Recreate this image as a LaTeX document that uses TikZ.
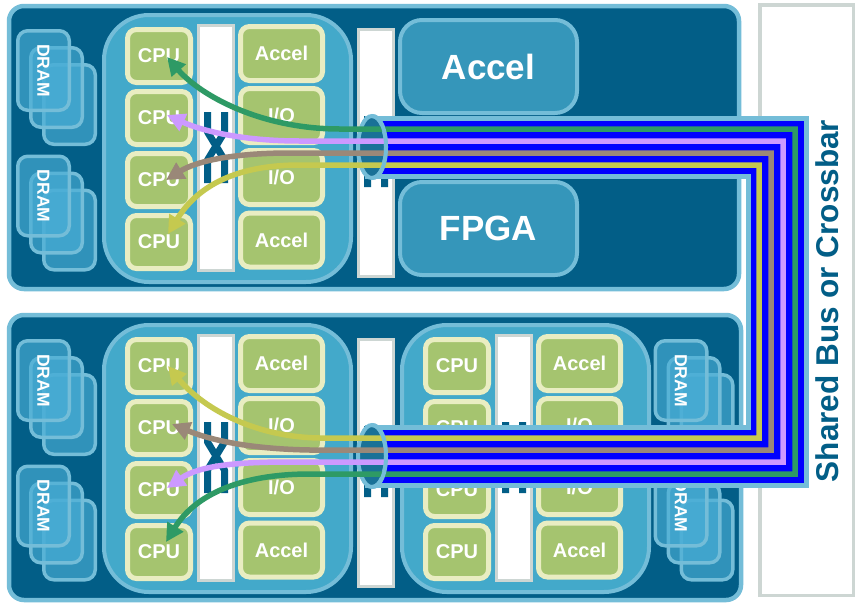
\documentclass[tikz,border=0pt]{standalone}
\usepackage{fontspec}
\setmainfont{Liberation Sans}
\usetikzlibrary{arrows.meta}
\definecolor{boardc}{HTML}{025E87}
\definecolor{rimc}{HTML}{74BDD8}
\definecolor{chipc}{HTML}{43A9CA}
\definecolor{boxg}{HTML}{A5C46F}
\definecolor{boxrim}{HTML}{E9EDC2}
\definecolor{barrim}{HTML}{CDD6D3}
\definecolor{bigc}{HTML}{3596BA}
\definecolor{dramc}{HTML}{4AAED6}
\definecolor{busblue}{HTML}{0000FF}
\definecolor{lgreen}{HTML}{2E9A65}
\definecolor{lpurple}{HTML}{CC99FF}
\definecolor{lbrown}{HTML}{9A8878}
\definecolor{lyellow}{HTML}{C5C94F}
\tikzset{
  board/.style={draw=rimc, fill=boardc, line width=4.5pt, rounded corners=15pt},
  chipbody/.style={draw=rimc, fill=chipc, line width=4pt, rounded corners=45pt,
    minimum width=247pt, minimum height=267pt},
  unit/.style={draw=boxrim, fill=boxg, line width=5pt, rounded corners=9pt,
    minimum width=63pt, minimum height=53pt, inner sep=0pt, text=white,
    font=\bfseries\fontsize{20}{20}\selectfont},
  ubox/.style={unit, minimum width=82pt, minimum height=54pt},
  xbarbox/.style={draw=barrim, fill=white, line width=3pt, minimum width=35pt},
  crossw/.style={draw=boardc, line width=7pt, line join=bevel},
  bigbox/.style={draw=rimc, fill=bigc, line width=4pt, rounded corners=22pt,
    minimum width=177pt, minimum height=93pt, text=white,
    font=\bfseries\fontsize{35}{35}\selectfont},
  dramrect/.style={draw=rimc, fill=dramc, fill opacity=0.65, line width=3.5pt,
    rounded corners=10pt, minimum width=51.5pt, minimum height=79.5pt},
  dramtext/.style={rotate=-90, text=white, inner sep=0pt,
    font=\bfseries\fontsize{17.5}{17.5}\selectfont},
  conn/.style={line width=5.5pt, line join=miter,
    arrows={Triangle[length=18pt,width=18pt]-Triangle[length=18pt,width=18pt]}},
}
\newcommand\mkcross[2]{%
  \draw[crossw] ({#1-8.5},#2) -- ({#1-8.5},{#2+20}) -- ({#1+8.5},{#2+48}) -- ({#1+8.5},{#2+71});
  \draw[crossw] ({#1+8.5},#2) -- ({#1+8.5},{#2+20}) -- ({#1-8.5},{#2+48}) -- ({#1-8.5},{#2+71});}
\newcommand\mkchip[3]{%
  \begin{scope}[shift={(#2,#3)}]
    \node[chipbody] (#1chip) at (227.5,148.5) {};
    \node[xbarbox, minimum height=245pt] (#1bar) at (216,148) {};
    \mkcross{216}{112}
    \node[unit] (#1cpu1) at (159,56) {CPU};
    \node[unit] (#1cpu2) at (159,118) {CPU};
    \node[unit] (#1cpu3) at (159,180) {CPU};
    \node[unit] (#1cpu4) at (159,242) {CPU};
    \node[ubox] (#1acc1) at (281.5,53.5) {Accel};
    \node[ubox] (#1io1) at (281.5,115.5) {I/O};
    \node[ubox] (#1io2) at (281.5,177.5) {I/O};
    \node[ubox] (#1acc2) at (281.5,240) {Accel};
  \end{scope}}
\newcommand\mkdram[3]{%
  \begin{scope}[shift={(#2,#3)}]
    \node[dramrect] (#1c) at (26,34) {};
    \node[dramrect] (#1b) at (13,17) {};
    \node[dramrect] (#1a) at (0,0) {};
    \node[dramtext] (#1t) at (0,0) {DRAM};
  \end{scope}}
\begin{document}
\begin{tikzpicture}[x=1pt,y=-1pt]
\useasboundingbox (0,0) rectangle (856,606);
\fill[white] (0,0) rectangle (856,606);
% label box
\node[draw=barrim, fill=white, line width=3.5pt, minimum width=93.5pt, minimum height=590.5pt] (lblbox) at (806.5,300) {};
% boards
\node[board, minimum width=730pt, minimum height=283pt] (boardT) at (374,147.5) {};
\node[board, minimum width=732pt, minimum height=285pt] (boardB) at (375,457.5) {};
% DRAM stacks
\mkdram{dTa}{43.5}{70.5}
\mkdram{dTb}{43.5}{196}
\mkdram{dBa}{43.5}{380.5}
\mkdram{dBb}{43.5}{506}
\mkdram{dRa}{681}{380.5}
\mkdram{dRb}{681}{506}
% chips
\mkchip{T}{0}{0}
\mkchip{B}{0}{310}
\mkchip{R}{298}{310}
% second crossbars
\node[xbarbox, minimum height=247pt] (Tbartwo) at (376,153) {};
\mkcross{376}{116}
\node[xbarbox, minimum height=247pt] (Bbartwo) at (376,463) {};
\mkcross{376}{426}
% big boxes
\node[bigbox] (accbig) at (488.5,66.5) {Accel};
\node[bigbox] (fpga) at (488.5,228.5) {FPGA};
% bus
\draw[line width=63pt, rimc, line join=miter] (365,147) -- (777,147) -- (777,456) -- (365,456);
\draw[line width=53pt, busblue, line join=miter] (372,147) -- (777,147) -- (777,456) -- (372,456);
\draw[draw=rimc, line width=4pt, fill=boardc!80!rimc] (372,147) ellipse [x radius=14pt, y radius=31pt];
\draw[draw=rimc, line width=4pt, fill=boardc!80!rimc] (372,456) ellipse [x radius=14pt, y radius=31pt];
% connectors
\coordinate (gT) at ([shift={(8,1)}]Tcpu1.center);
\coordinate (pT) at ([shift={(8,-3)}]Tcpu2.center);
\coordinate (bT) at ([shift={(7,0)}]Tcpu3.center);
\coordinate (yT) at ([shift={(9,-8)}]Tcpu4.center);
\coordinate (yB) at ([shift={(9,0)}]Bcpu1.center);
\coordinate (bB) at ([shift={(13,-4)}]Bcpu2.center);
\coordinate (pB) at ([shift={(8,-2)}]Bcpu3.center);
\coordinate (gB) at ([shift={(7,-10)}]Bcpu4.center);
\draw[conn, lgreen] (gT) .. controls (200,95) and (260,129) .. (340,129) -- (795,129) -- (795,474) -- (310,474) .. controls (240,474) and (195,495) .. (gB);
\draw[conn, lpurple] (pT) .. controls (200,130) and (240,141) .. (300,141) -- (783,141) -- (783,462) -- (290,462) .. controls (240,462) and (200,465) .. (pB);
\draw[conn, lbrown] (bT) .. controls (195,162) and (230,153) .. (290,153) -- (771,153) -- (771,450) -- (310,450) .. controls (250,449) and (210,440) .. (bB);
\draw[conn, lyellow] (yT) .. controls (195,190) and (230,165) .. (300,165) -- (759,165) -- (759,438) -- (320,438) .. controls (250,437) and (200,405) .. (yB);
% front arcs of bus ends
\draw[rimc, line width=4pt] (372,116) .. controls (390.7,116) and (390.7,178) .. (372,178);
\draw[rimc, line width=4pt] (372,425) .. controls (390.7,425) and (390.7,487) .. (372,487);
% label
\node[rotate=90, text=boardc, font=\bfseries\fontsize{31.5}{31.5}\selectfont, inner sep=0pt] (lbltext) at (827,301) {Shared Bus or Crossbar};
\end{tikzpicture}
\end{document}
